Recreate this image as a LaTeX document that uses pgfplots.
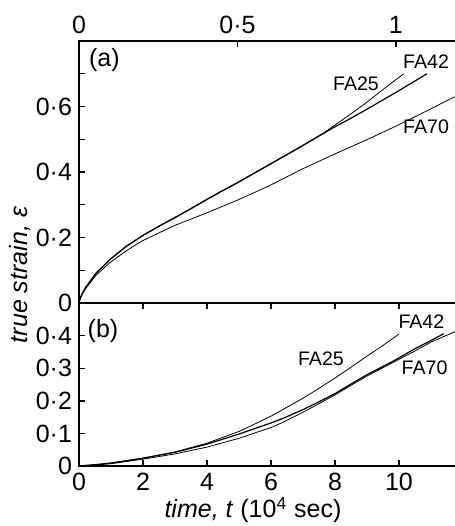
\documentclass[border=0pt]{standalone}
\usepackage{pgfplots}
\pgfplotsset{compat=1.18}
\usepackage{fontspec}
\setmainfont{Liberation Sans}
\begin{document}
\begin{tikzpicture}
\useasboundingbox (0,0) rectangle (227.5pt,263pt);
\pgfplotsset{
  myax/.style={
    scale only axis, anchor=south west, clip=true,
    axis line style={line width=0.8pt},
    every tick/.style={line width=0.7pt, black},
    major tick length=2.8pt, minor tick length=2.8pt,
    tick label style={font=\fontsize{12.5}{14}\selectfont},
    ytick pos=left,
    cycle list={{black, line width=0.6pt, no markers}},
  }
}
% ---------- panel (a)
\begin{axis}[myax,
  at={(39.5pt,111.5pt)}, width=190pt, height=131pt,
  xmin=0, xmax=1.199, ymin=0, ymax=0.8,
  xtick={0,0.5,1}, xticklabels={0,0·5,1},
  xtick pos=right, xticklabel pos=right,
  ytick={0,0.2,0.4,0.6}, yticklabels={0,0·2,0·4,0·6},
  minor ytick={0.1,0.3,0.5,0.7},
]
\addplot coordinates {(0,0) (0.002,0.009) (0.005,0.017) (0.01,0.028) (0.022,0.049) (0.054,0.092) (0.096,0.132) (0.148,0.173) (0.2,0.206) (0.25,0.234) (0.3,0.26) (0.35,0.287) (0.4,0.315) (0.45,0.342) (0.5,0.368) (0.6,0.423) (0.7,0.478) (0.77,0.518) (0.8,0.538) (0.85,0.572) (0.9,0.607) (0.95,0.645) (1.0,0.682) (1.025,0.70)};
\addplot coordinates {(0,0) (0.002,0.009) (0.005,0.017) (0.01,0.028) (0.022,0.049) (0.054,0.091) (0.096,0.131) (0.148,0.172) (0.2,0.205) (0.25,0.233) (0.3,0.259) (0.35,0.286) (0.4,0.314) (0.45,0.341) (0.5,0.367) (0.6,0.422) (0.7,0.477) (0.77,0.517) (0.8,0.534) (0.85,0.56) (0.9,0.587) (0.95,0.615) (1.0,0.643) (1.05,0.672) (1.098,0.70)};
\addplot coordinates {(0,0) (0.002,0.008) (0.005,0.016) (0.01,0.026) (0.022,0.045) (0.054,0.085) (0.096,0.122) (0.15,0.16) (0.2,0.19) (0.3,0.236) (0.4,0.274) (0.5,0.314) (0.6,0.358) (0.7,0.407) (0.8,0.452) (0.9,0.495) (1.0,0.54) (1.1,0.588) (1.2,0.637)};
\node[font=\fontsize{12.5}{14}\selectfont] at (axis cs:0.08,0.742) {(a)};
\node[font=\fontsize{9.8}{11}\selectfont] at (axis cs:0.874,0.671) {FA25};
\node[font=\fontsize{9.8}{11}\selectfont] at (axis cs:1.095,0.738) {FA42};
\node[font=\fontsize{9.8}{11}\selectfont] at (axis cs:1.095,0.538) {FA70};
\end{axis}
% ---------- panel (b)
\begin{axis}[myax,
  at={(39.5pt,30pt)}, width=190pt, height=81.5pt,
  xmin=0, xmax=11.875, ymin=0, ymax=0.5,
  xtick={0,2,4,6,8,10}, xticklabels={0,2,4,6,8,10},
  xtick pos=both,
  ytick={0,0.1,0.2,0.3,0.4}, yticklabels={0,0·1,0·2,0·3,0·4},
]
\addplot coordinates {(0,0) (0.5,0.004) (1,0.009) (2,0.024) (3,0.043) (4,0.07) (5,0.106) (5.31,0.12) (6,0.153) (6.35,0.172) (7,0.208) (7.4,0.232) (8,0.27) (8.44,0.299) (9,0.337) (9.5,0.37) (10,0.405)};
\addplot coordinates {(0,0) (0.5,0.004) (1,0.009) (2,0.024) (3,0.042) (4,0.067) (5,0.098) (6,0.132) (6.35,0.145) (7,0.173) (7.4,0.192) (8,0.222) (8.44,0.248) (9,0.28) (9.9,0.326) (10.5,0.36) (11,0.385) (11.4,0.406)};
\addplot coordinates {(0,0) (0.5,0.003) (1,0.007) (2,0.021) (3,0.037) (4,0.058) (5,0.085) (6,0.118) (6.35,0.133) (7,0.165) (7.4,0.186) (8,0.218) (8.44,0.244) (9,0.276) (9.9,0.322) (10.5,0.353) (11,0.38) (11.7,0.41) (11.9,0.42)};
\node[font=\fontsize{12.5}{14}\selectfont] at (axis cs:0.75,0.413) {(b)};
\node[font=\fontsize{9.8}{11}\selectfont] at (axis cs:7.56,0.33) {FA25};
\node[font=\fontsize{9.8}{11}\selectfont] at (axis cs:10.7,0.443) {FA42};
\node[font=\fontsize{9.8}{11}\selectfont] at (axis cs:10.8,0.30) {FA70};
\end{axis}
\node[rotate=90, font=\fontsize{12.5}{14}\selectfont\itshape] at (10pt,125.5pt) {true strain, ε};
\node[font=\fontsize{12.5}{14}\selectfont] at (126.5pt,8pt) {\textit{time, t} (10\textsuperscript{4} sec)};
\end{tikzpicture}
\end{document}
